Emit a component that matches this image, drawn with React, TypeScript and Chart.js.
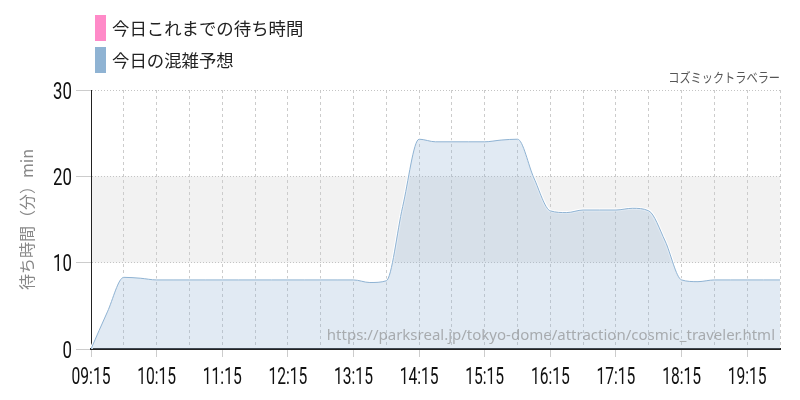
import React, { useEffect, useRef } from 'react';
import { Chart, registerables } from 'chart.js';
Chart.register(...registerables);

const times = [
  '09:15', '09:30', '09:45', '10:00', '10:15', '10:30', '10:45', '11:00', '11:15', '11:30', '11:45',
  '12:00', '12:15', '12:30', '12:45', '13:00', '13:15', '13:30', '13:45', '14:00', '14:15', '14:30',
  '14:45', '15:00', '15:15', '15:30', '15:45', '16:00', '16:15', '16:30', '16:45', '17:00', '17:15',
  '17:30', '17:45', '18:00', '18:15', '18:30', '18:45', '19:00', '19:15', '19:30', '19:45',
];
const forecast = [
  0, 4.3, 8.3, 8.2, 8.0, 8.0, 8.0, 8.0, 8.0, 8.0, 8.0,
  8.0, 8.0, 8.0, 8.0, 8.0, 8.0, 7.7, 7.9, 16.5, 24.3, 24.0,
  24.0, 24.0, 24.0, 24.2, 24.3, 19.8, 16.0, 15.8, 16.1, 16.1, 16.1,
  16.3, 16.0, 12.5, 8.0, 7.8, 8.0, 8.0, 8.0, 8.0, 8.0,
];
const actual: number[] = [];
const hourTicks = ['09:15', '10:15', '11:15', '12:15', '13:15', '14:15', '15:15', '16:15', '17:15', '18:15', '19:15'];
const yTicks = [0, 10, 20, 30];
const legendLabels = ['今日これまでの待ち時間', '今日の混雑予想'];
const chartTitle = 'コズミックトラベラー';
const yAxisTitle = '待ち時間（分）min';
const sourceUrl = 'https://parksreal.jp/tokyo-dome/attraction/cosmic_traveler.html';

const toMin = (t: string) => {
  const [h, m] = t.split(':').map(Number);
  return h * 60 + m;
};
const startMin = toMin(times[0]);
const endMin = toMin(times[times.length - 1]);
const fmt = (v: number) => {
  const t = startMin + v;
  const h = Math.floor(t / 60);
  const m = t % 60;
  return `${String(h).padStart(2, '0')}:${String(m).padStart(2, '0')}`;
};

const TICK_FONT = "Roboto, 'DejaVu Sans', sans-serif";
const JP_FONT = "'Noto Sans CJK JP', 'Noto Sans', sans-serif";
const PINK = '#ff8ac8';
const BLUE = '#8fb3d3';
const NARROW = 0.65;

const decorPlugin = {
  id: 'decor',
  beforeDraw(chart: any) {
    const { ctx, chartArea, scales } = chart;
    const y = scales.y;
    ctx.save();
    ctx.fillStyle = '#f2f2f2';
    const top = y.getPixelForValue(20);
    const bot = y.getPixelForValue(10);
    ctx.fillRect(chartArea.left, top, chartArea.right - chartArea.left, bot - top);
    ctx.restore();
  },
  afterDatasetsDraw(chart: any) {
    const { ctx, chartArea } = chart;
    ctx.save();
    ctx.font = `15px 'Noto Sans', sans-serif`;
    ctx.fillStyle = 'rgba(128,128,128,0.6)';
    ctx.textAlign = 'right';
    ctx.textBaseline = 'middle';
    ctx.fillText(sourceUrl, chartArea.right - 5, chartArea.bottom - 13);
    ctx.restore();
  },
  afterDraw(chart: any) {
    const { ctx, chartArea, scales } = chart;
    ctx.save();
    // condensed tick labels, positioned by the chart's scales
    ctx.font = `24px ${TICK_FONT}`;
    ctx.fillStyle = '#111';
    ctx.textBaseline = 'alphabetic';
    ctx.textAlign = 'center';
    hourTicks.forEach((lab) => {
      const px = scales.x.getPixelForValue(toMin(lab) - startMin);
      ctx.save();
      ctx.translate(px, scales.x.top + 35);
      ctx.scale(NARROW, 1);
      ctx.fillText(lab, 0, 0);
      ctx.restore();
    });
    ctx.textAlign = 'right';
    yTicks.forEach((v) => {
      const py = scales.y.getPixelForValue(v);
      ctx.save();
      ctx.translate(scales.y.right - 19, py + 8.5);
      ctx.scale(NARROW + 0.05, 1);
      ctx.fillText(String(v), 0, 0);
      ctx.restore();
    });
    // legend
    const colors = [PINK, BLUE];
    legendLabels.forEach((lab, i) => {
      const cy = 28 + i * 32;
      ctx.fillStyle = colors[i];
      ctx.fillRect(95, cy - 13, 11, 26);
      ctx.fillStyle = '#222';
      ctx.font = `17.4px ${JP_FONT}`;
      ctx.textAlign = 'left';
      ctx.textBaseline = 'middle';
      ctx.fillText(lab, 112, cy);
    });
    // title
    ctx.font = `13px ${JP_FONT}`;
    ctx.fillStyle = '#555';
    ctx.textAlign = 'right';
    ctx.textBaseline = 'middle';
    ctx.save();
    ctx.translate(chartArea.right, 77);
    ctx.scale(0.86, 1);
    ctx.fillText(chartTitle, 0, 0);
    ctx.restore();
    ctx.restore();
  },
};

export default function App() {
  const ref = useRef<HTMLCanvasElement>(null);
  useEffect(() => {
    document.body.style.margin = '0';
    const pts = times.map((t, i) => ({ x: toMin(t) - startMin, y: forecast[i] }));
    const chart = new Chart(ref.current!, {
      type: 'line',
      data: {
        datasets: [
          {
            label: legendLabels[0],
            data: actual.map((v, i) => ({ x: toMin(times[i]) - startMin, y: v })),
            borderColor: PINK,
            backgroundColor: PINK,
            pointRadius: 0,
          },
          {
            label: legendLabels[1],
            data: pts,
            borderColor: BLUE,
            borderWidth: 1,
            backgroundColor: 'rgba(143,179,211,0.27)',
            fill: 'origin',
            pointRadius: 0,
            cubicInterpolationMode: 'monotone',
          },
          {
            label: 'outline',
            data: pts,
            borderColor: '#ffffff',
            borderWidth: 3,
            fill: false,
            pointRadius: 0,
            cubicInterpolationMode: 'monotone',
          },
        ],
      },
      options: {
        animation: false,
        responsive: false,
        layout: { padding: { top: 90, right: 20, left: 0, bottom: 0 } },
        plugins: {
          legend: { display: false },
          title: { display: false },
          tooltip: { enabled: false },
        },
        scales: {
          x: {
            type: 'linear',
            min: 0,
            max: endMin - startMin,
            afterFit: (s: any) => { s.height = 51; },
            afterBuildTicks: (s: any) => {
              const arr = [];
              for (let v = 0; v <= endMin - startMin; v += 30) arr.push({ value: v });
              s.ticks = arr;
            },
            border: { color: '#222', width: 2, dash: [3, 3] },
            grid: {
              color: '#cccccc',
              tickBorderDash: [],
              tickLength: 8,
              tickColor: (c: any) => (hourTicks.includes(fmt(c.tick?.value ?? -1)) ? '#cccccc' : 'rgba(0,0,0,0)'),
            },
            ticks: { display: false, autoSkip: false, maxRotation: 0 },
          },
          y: {
            min: 0,
            max: 30,
            afterFit: (s: any) => { s.width = 91; },
            afterBuildTicks: (s: any) => { s.ticks = yTicks.map((v) => ({ value: v })); },
            border: { color: '#222', width: 1, dash: [1, 2] },
            grid: {
              color: (c: any) => (c.tick?.value === 0 ? 'rgba(0,0,0,0)' : '#c4c4c4'),
              tickBorderDash: [],
              tickLength: 15,
              tickColor: '#cccccc',
            },
            ticks: { display: false },
            title: {
              display: true,
              text: yAxisTitle,
              color: '#888',
              font: { family: JP_FONT, size: 16 },
              padding: { top: 17, bottom: 0 },
            },
          },
        },
      },
      plugins: [decorPlugin],
    } as any);
    return () => chart.destroy();
  }, []);
  return (
    <div style={{ width: 800, height: 400 }}>
      <canvas ref={ref} width={800} height={400} />
    </div>
  );
}
